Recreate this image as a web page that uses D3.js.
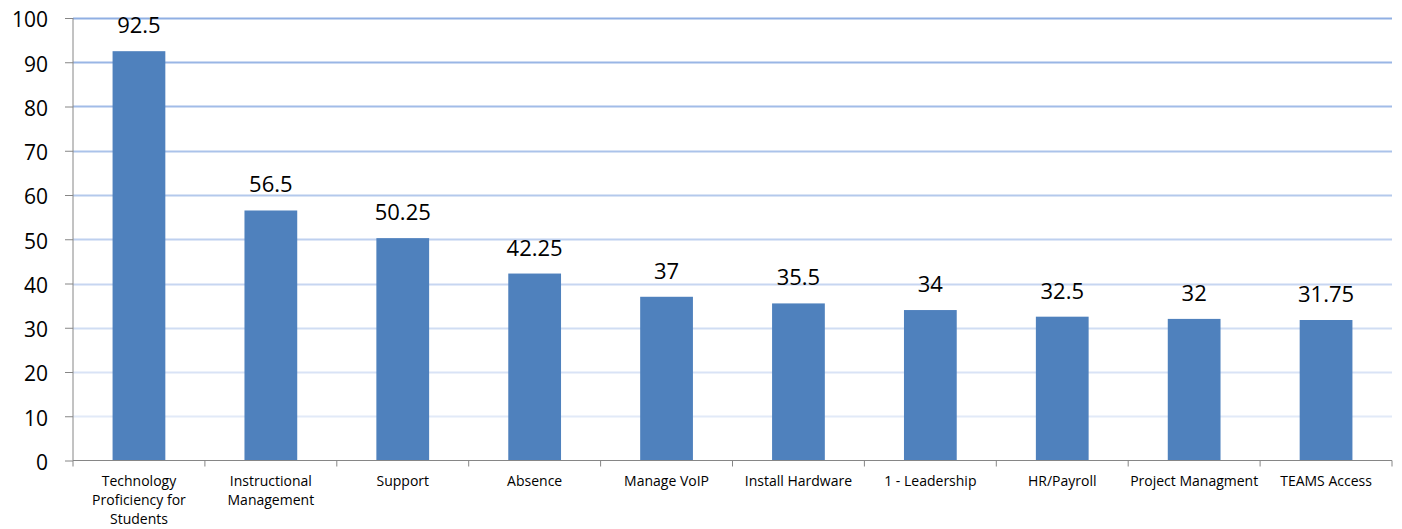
<!DOCTYPE html>
<html>
<head>
<meta charset="utf-8">
<script src="https://cdn.jsdelivr.net/npm/d3@7"></script>
<style>
  body { margin: 0; background: #fff; }
  svg { display: block; font-family: "Open Sans", sans-serif; }
</style>
</head>
<body>
<svg width="1402" height="529"></svg>
<script>
const categories = [
  "Technology Proficiency for Students",
  "Instructional Management",
  "Support",
  "Absence",
  "Manage VoIP",
  "Install Hardware",
  "1 - Leadership",
  "HR/Payroll",
  "Project Managment",
  "TEAMS Access"
];
const values = [92.5, 56.5, 50.25, 42.25, 37, 35.5, 34, 32.5, 32, 31.75];
const yTicks = [0, 10, 20, 30, 40, 50, 60, 70, 80, 90, 100];

const svg = d3.select("svg");
const plotLeft = 73, plotRight = 1392, plotTop = 18, plotBottom = 460.5;

const x = d3.scaleBand().domain(categories).range([plotLeft, plotRight]).paddingInner(0.6).paddingOuter(0.3);
const y = d3.scaleLinear().domain([0, 100]).range([plotBottom, plotTop]);

// gridlines, lighter toward the bottom
const gridColor = d3.scaleLinear().domain([10, 100]).range(["#e2eaf8", "#90afe3"]);
svg.append("g")
  .selectAll("line")
  .data(yTicks.filter((d) => d > 0))
  .join("line")
  .attr("x1", plotLeft)
  .attr("x2", plotRight)
  .attr("y1", (d) => Math.round(y(d)) + 0.5)
  .attr("y2", (d) => Math.round(y(d)) + 0.5)
  .attr("stroke", (d) => gridColor(d))
  .attr("stroke-width", 2);

// bars
svg.append("g")
  .selectAll("rect")
  .data(values)
  .join("rect")
  .attr("x", (d, i) => x(categories[i]))
  .attr("width", x.bandwidth())
  .attr("y", (d) => y(d))
  .attr("height", (d) => y(0) - y(d))
  .attr("fill", "#4f81bd");

// data labels
svg.append("g")
  .selectAll("text")
  .data(values)
  .join("text")
  .attr("x", (d, i) => x(categories[i]) + x.bandwidth() / 2)
  .attr("y", (d) => y(d) - 18)
  .attr("text-anchor", "middle")
  .attr("font-size", 22)
  .attr("fill", "#000")
  .text((d) => d);

// y axis
const yAxis = svg.append("g")
  .attr("transform", `translate(${plotLeft},0)`)
  .call(d3.axisLeft(y).tickValues(yTicks).tickSize(8).tickPadding(17));
yAxis.selectAll("line, path").attr("stroke", "#868686");
yAxis.select(".domain").attr("d", `M0,${plotTop}V${plotBottom}`);
yAxis.selectAll("text")
  .attr("font-size", 21)
  .attr("font-family", "'Open Sans', sans-serif")
  .attr("dy", "0.42em")
  .attr("fill", "#000");

// x axis with tick marks at band edges
const xg = svg.append("g");
xg.append("line")
  .attr("x1", plotLeft).attr("x2", plotRight)
  .attr("y1", plotBottom).attr("y2", plotBottom)
  .attr("stroke", "#868686");
const step = (plotRight - plotLeft) / categories.length;
xg.selectAll(".edge")
  .data(d3.range(categories.length + 1))
  .join("line")
  .attr("class", "edge")
  .attr("x1", (i) => plotLeft + i * step)
  .attr("x2", (i) => plotLeft + i * step)
  .attr("y1", plotBottom)
  .attr("y2", plotBottom + 6)
  .attr("stroke", "#868686");

// category labels, wrapped to the band width
xg.selectAll(".cat")
  .data(categories)
  .join("text")
  .attr("class", "cat")
  .attr("text-anchor", "middle")
  .attr("font-size", 14)
  .attr("fill", "#000")
  .each(function (name) {
    const t = d3.select(this);
    const cx = x(name) + x.bandwidth() / 2;
    const words = name.split(" ");
    let lines = [], line = [];
    const probe = t.append("tspan");
    words.forEach((w) => {
      const trial = line.concat(w).join(" ");
      probe.text(trial);
      if (probe.node().getComputedTextLength() > step - 1 && line.length) {
        lines.push(line.join(" "));
        line = [w];
      } else {
        line.push(w);
      }
    });
    lines.push(line.join(" "));
    probe.remove();
    t.selectAll("tspan")
      .data(lines)
      .join("tspan")
      .attr("x", cx)
      .attr("y", (d, i) => 486 + i * 19)
      .text((d) => d);
  });
</script>
</body>
</html>
